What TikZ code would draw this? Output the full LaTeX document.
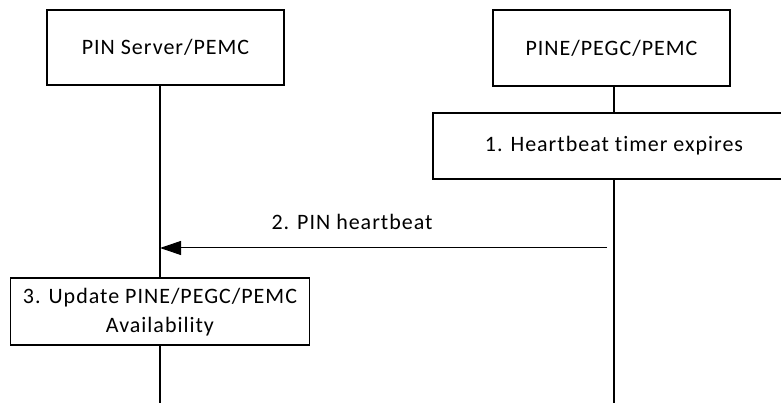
\documentclass[tikz,border=0pt]{standalone}
\usepackage{fontspec}
\setmainfont{Carlito}[LetterSpace=4.5, Ligatures=NoCommon]
\usetikzlibrary{arrows.meta}
\begin{document}
\begin{tikzpicture}[x=1pt,y=-1pt,
  every node/.style={font=\fontsize{22}{29}\selectfont, inner sep=0pt},
  entity/.style={draw, line width=1.5pt, minimum width=237pt, minimum height=75pt},
  action/.style={draw, line width=1.5pt, align=center},
  life/.style={line width=2pt},
  msg/.style={line width=1pt, -{Triangle[length=21pt,width=14pt]}}]
\useasboundingbox (0,0) rectangle (781,403);
\node[entity] (srv) at (165.5,47.5) {PIN Server/PEMC};
\node[entity, minimum height=76pt] (pine) at (611.5,48) {PINE/PEGC/PEMC};
\node[action, minimum width=362pt, minimum height=66pt] (s1) at (614,146) {1. Heartbeat timer expires};
\node[action, minimum width=299pt, minimum height=67pt, text depth=2pt] (s3) at (160,311.5) {3. Update PINE/PEGC/PEMC\\Availability};
\coordinate (bot) at (0,403);
\coordinate (m2) at (607,248);
\draw[life] (srv.south -| s3) -- (s3.north);
\draw[life] (s3.south) -- (s3.south |- bot);
\draw[life] (pine.south -| s1) -- (s1.north);
\draw[life] (s1.south) -- (s1.south |- bot);
\draw[msg] (m2) -- (s3.center |- m2);
\node[anchor=base] (l2) at (352,229.3) {2. PIN heartbeat};
\end{tikzpicture}
\end{document}
